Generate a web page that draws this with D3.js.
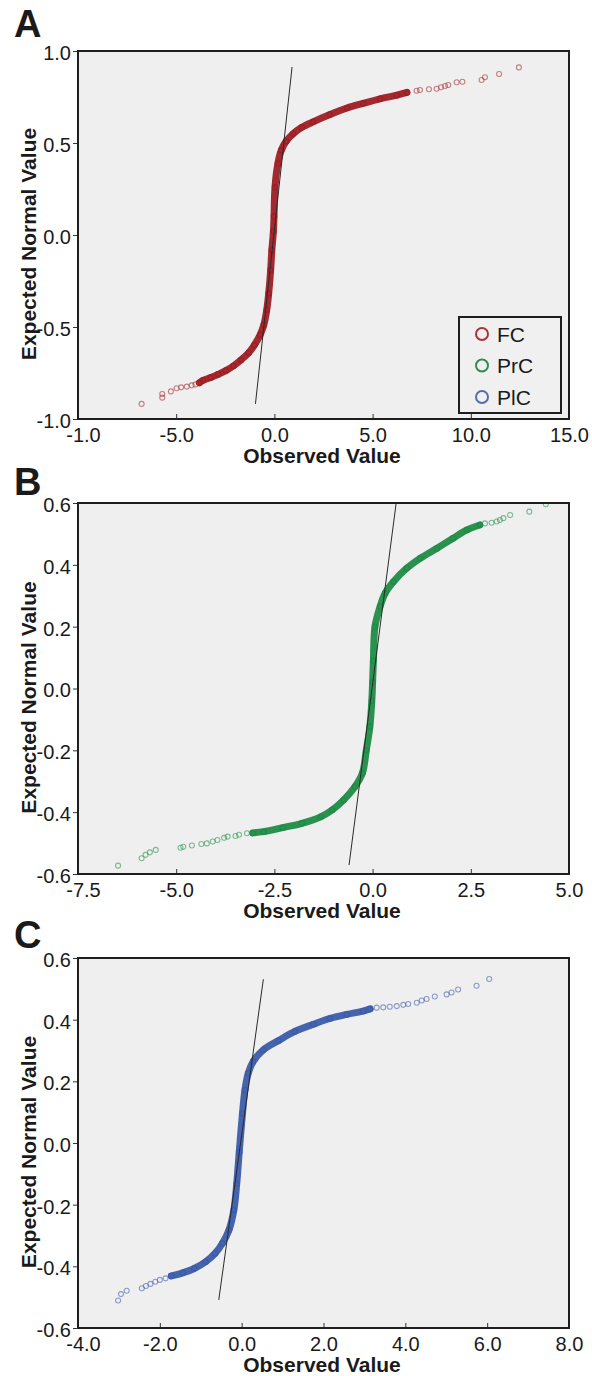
<!DOCTYPE html>
<html><head><meta charset="utf-8">
<script src="https://cdn.jsdelivr.net/npm/d3@7"></script>
<style>
body{margin:0;background:#fff}
svg{display:block}
text{font-family:"Liberation Sans",Arial,Helvetica,sans-serif;fill:#1a1a1a}
</style>
</head><body>
<svg id="chart" width="592" height="1376"></svg>
<script>
// ---------- DATA ----------
const seriesNames = ["FC", "PrC", "PlC"];

// Panel A (FC): [observed, expected normal]
const fcBand = [[-3.82,-0.803],[-3.63,-0.790],[-3.24,-0.775],[-2.86,-0.757],[-2.47,-0.737],[-2.09,-0.712],[-1.70,-0.679],[-1.31,-0.640],[-1.02,-0.598],[-0.73,-0.543],[-0.54,-0.489],[-0.39,-0.408],[-0.29,-0.317],[-0.19,-0.190],[-0.13,-0.082],[-0.05,0.02],[-0.02,0.10],[0.03,0.26],[0.18,0.39],[0.35,0.46],[0.60,0.51],[0.95,0.55],[1.40,0.585],[1.97,0.615],[2.83,0.655],[3.70,0.690],[4.51,0.715],[5.38,0.740],[6.24,0.760],[6.75,0.775]];
const fcTail = [[-6.76,-0.918],[-5.71,-0.884],[-5.71,-0.864],[-5.27,-0.850],[-4.98,-0.833],[-4.75,-0.828],[-4.46,-0.824],[-4.21,-0.817],[-4.02,-0.812],[7.24,0.784],[7.41,0.788],[7.87,0.792],[8.26,0.795],[8.48,0.803],[8.69,0.810],[8.85,0.815],[9.28,0.830],[9.57,0.833],[10.55,0.842],[10.72,0.857],[11.44,0.875],[12.45,0.911]];
const fcRef = [[-0.965,-0.918],[0.90,0.913]];

// Panel B (PrC)
const prcBand = [[-3.05,-0.467],[-2.77,-0.463],[-2.29,-0.450],[-1.80,-0.436],[-1.32,-0.415],[-1.03,-0.393],[-0.74,-0.361],[-0.45,-0.318],[-0.26,-0.274],[-0.16,-0.199],[-0.07,-0.124],[-0.02,-0.04],[0.0,0.02],[0.02,0.09],[0.06,0.20],[0.19,0.265],[0.32,0.308],[0.53,0.345],[0.87,0.389],[1.21,0.421],[1.63,0.453],[2.05,0.486],[2.40,0.513],[2.73,0.529]];
const prcTail = [[-6.48,-0.573],[-5.88,-0.549],[-5.78,-0.538],[-5.67,-0.530],[-5.52,-0.522],[-4.89,-0.515],[-4.82,-0.512],[-4.60,-0.508],[-4.36,-0.503],[-4.22,-0.501],[-4.07,-0.495],[-3.95,-0.490],[-3.78,-0.483],[-3.69,-0.479],[-3.49,-0.477],[-3.40,-0.473],[-3.20,-0.468],[2.86,0.534],[3.03,0.536],[3.16,0.540],[3.24,0.545],[3.33,0.551],[3.50,0.561],[3.99,0.572],[4.41,0.596]];
const prcRef = [[-0.60,-0.571],[0.60,0.600]];

// Panel C (PlC)
const plcBand = [[-1.72,-0.431],[-1.44,-0.421],[-1.16,-0.407],[-0.88,-0.385],[-0.65,-0.358],[-0.47,-0.325],[-0.31,-0.282],[-0.19,-0.217],[-0.12,-0.131],[-0.06,-0.03],[0.02,0.096],[0.08,0.172],[0.16,0.226],[0.28,0.264],[0.53,0.302],[0.90,0.332],[1.30,0.362],[1.75,0.385],[2.16,0.404],[2.57,0.417],[2.97,0.428],[3.14,0.435]];
const plcTail = [[-3.02,-0.511],[-2.95,-0.490],[-2.81,-0.479],[-2.44,-0.471],[-2.34,-0.464],[-2.23,-0.457],[-2.11,-0.450],[-2.00,-0.444],[-1.86,-0.439],[3.30,0.439],[3.46,0.440],[3.62,0.442],[3.79,0.444],[3.95,0.448],[4.07,0.451],[4.28,0.455],[4.40,0.462],[4.52,0.467],[4.72,0.475],[5.01,0.482],[5.13,0.488],[5.29,0.498],[5.74,0.510],[6.05,0.532]];
const plcRef = [[-0.56,-0.509],[0.53,0.531]];

// Ticks
const xTicksA = [-10,-5,0,5,10,15];
const xLabelsA = ["-1.0","-5.0","0.0","5.0","10.0","15.0"];
const yTicksA = [-1,-0.5,0,0.5,1];
const xTicksB = [-7.5,-5,-2.5,0,2.5,5];
const xLabelsB = ["-7.5","-5.0","-2.5","0.0","2.5","5.0"];
const yTicksB = [-0.6,-0.4,-0.2,0,0.2,0.4,0.6];
const xTicksC = [-4,-2,0,2,4,6,8];
const xLabelsC = ["-4.0","-2.0","0.0","2.0","4.0","6.0","8.0"];
const yTicksC = [-0.6,-0.4,-0.2,0,0.2,0.4,0.6];

// ---------- STYLE / LAYOUT ----------
const colors = [
  {band:"#9d1e24", tail:"#a8343b", legend:"#a8343b"},
  {band:"#1f8b46", tail:"#2e9457", legend:"#2e8b57"},
  {band:"#3c5ba9", tail:"#4a63ad", legend:"#5a6aae"}
];
const L = 78, R = 569;
const panels = [
  {letter:"A", top:51,  bottom:419,  letterY:37,  xDom:[-10,15], yDom:[-1,1],     xTicks:xTicksA, xLabels:xLabelsA, yTicks:yTicksA, band:fcBand,  tail:fcTail,  ref:fcRef,  col:colors[0], legend:true},
  {letter:"B", top:503, bottom:874,  letterY:495, xDom:[-7.5,5], yDom:[-0.6,0.6], xTicks:xTicksB, xLabels:xLabelsB, yTicks:yTicksB, band:prcBand, tail:prcTail, ref:prcRef, col:colors[1]},
  {letter:"C", top:958, bottom:1328, letterY:948, xDom:[-4,8],   yDom:[-0.6,0.6], xTicks:xTicksC, xLabels:xLabelsC, yTicks:yTicksC, band:plcBand, tail:plcTail, ref:plcRef, col:colors[2]}
];

const svg = d3.select("#chart");
const fmtY = d => (Math.abs(d) < 1e-9 ? 0 : d).toFixed(1);

panels.forEach((p, i) => {
  const x = d3.scaleLinear().domain(p.xDom).range([L, R]);
  const y = d3.scaleLinear().domain(p.yDom).range([p.bottom, p.top]);
  const g = svg.append("g");

  g.append("rect").attr("x", L).attr("y", p.top).attr("width", R - L).attr("height", p.bottom - p.top)
    .attr("fill", "#efefef");

  const cid = "clip" + i;
  svg.append("clipPath").attr("id", cid).append("rect")
    .attr("x", L).attr("y", p.top).attr("width", R - L).attr("height", p.bottom - p.top);
  const pg = g.append("g").attr("clip-path", `url(#${cid})`);

  // dense band of overlapping markers
  pg.append("path").datum(p.band)
    .attr("d", d3.line().x(d => x(d[0])).y(d => y(d[1])).curve(d3.curveCatmullRom))
    .attr("fill", "none").attr("stroke", p.col.band).attr("stroke-width", 7)
    .attr("stroke-linecap", "round").attr("stroke-linejoin", "round").attr("stroke-opacity", 0.95);
  pg.selectAll("circle.band").data(p.band).join("circle").attr("class", "band")
    .attr("cx", d => x(d[0])).attr("cy", d => y(d[1])).attr("r", 2.6)
    .attr("fill", "none").attr("stroke", p.col.band).attr("stroke-width", 1.3);
  // sparse tail markers
  pg.selectAll("circle.tail").data(p.tail).join("circle").attr("class", "tail")
    .attr("cx", d => x(d[0])).attr("cy", d => y(d[1])).attr("r", 2.5)
    .attr("fill", "none").attr("stroke", p.col.tail).attr("stroke-width", 1.1).attr("stroke-opacity", 0.6);

  // reference line
  pg.append("line")
    .attr("x1", x(p.ref[0][0])).attr("y1", y(p.ref[0][1]))
    .attr("x2", x(p.ref[1][0])).attr("y2", y(p.ref[1][1]))
    .attr("stroke", "#2a2a2a").attr("stroke-width", 1);

  // axes
  const xa = d3.axisBottom(x).tickValues(p.xTicks).tickFormat((d, j) => p.xLabels[j])
    .tickSizeInner(-5).tickSizeOuter(0).tickPadding(9);
  const xg = g.append("g").attr("transform", `translate(0,${p.bottom})`).call(xa);
  xg.select(".domain").remove();
  xg.selectAll(".tick line").attr("stroke", "#333");
  xg.selectAll(".tick text").attr("font-size", 20).attr("fill", "#1a1a1a")
    .attr("font-family", '"Liberation Sans",Arial,sans-serif')
    .attr("dx", (d, j) => j === 0 ? 5 : 0);

  const ya = d3.axisLeft(y).tickValues(p.yTicks).tickFormat(fmtY)
    .tickSizeInner(5).tickSizeOuter(0).tickPadding(2);
  const yg = g.append("g").attr("transform", `translate(${L},0)`).call(ya);
  yg.select(".domain").remove();
  yg.selectAll(".tick line").attr("stroke", "#333");
  yg.selectAll(".tick text").attr("font-size", 20).attr("fill", "#1a1a1a")
    .attr("font-family", '"Liberation Sans",Arial,sans-serif')
    .attr("dy", "0.42em");

  // frame
  g.append("rect").attr("x", L).attr("y", p.top).attr("width", R - L).attr("height", p.bottom - p.top)
    .attr("fill", "none").attr("stroke", "#1e1e1e").attr("stroke-width", 2);

  // axis titles
  g.append("text").attr("x", 322).attr("y", p.bottom + 44).attr("text-anchor", "middle")
    .attr("font-size", 21).attr("font-weight", "bold").text("Observed Value");
  const cy = (p.top + p.bottom) / 2 + 9;
  g.append("text").attr("transform", `translate(36,${cy}) rotate(-90)`).attr("text-anchor", "middle")
    .attr("font-size", 21).attr("font-weight", "bold").text("Expected Normal Value");

  // panel letter
  g.append("text").attr("x", 14).attr("y", p.letterY).attr("font-size", 38).attr("font-weight", "bold")
    .attr("fill", "#000").text(p.letter);

  // legend
  if (p.legend) {
    const lg = g.append("g");
    lg.append("rect").attr("x", 459).attr("y", 317).attr("width", 102).attr("height", 96)
      .attr("fill", "#f0f0f0").attr("stroke", "#1e1e1e").attr("stroke-width", 2);
    seriesNames.forEach((name, k) => {
      const yy = 334 + k * 31.5;
      lg.append("circle").attr("cx", 482).attr("cy", yy).attr("r", 6)
        .attr("fill", "none").attr("stroke", colors[k].legend).attr("stroke-width", 2);
      lg.append("text").attr("x", 497).attr("y", yy).attr("dy", "0.36em")
        .attr("font-size", 21).text(name);
    });
  }
});
</script>
</body></html>
